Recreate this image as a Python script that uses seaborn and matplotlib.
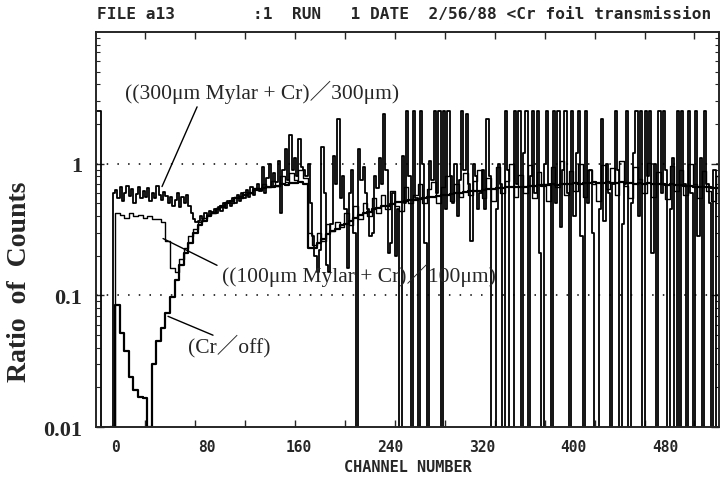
import numpy as np
import pandas as pd
import matplotlib
matplotlib.use('Agg')
import matplotlib.pyplot as plt
import seaborn as sns
from matplotlib.ticker import FixedLocator, LogLocator, NullFormatter

# ratio of counts, one value per channel bin
# (300um Mylar + Cr)/300um : 2-channel bins from channel -16
start_300, width_300 = -16, 2
ratio_300 = [
    2.5, 2.5, 0.01, 0.01, 0.01, 0.01, 0.01, 0.6, 0.63, 0.55,    # -16
    0.66, 0.52, 0.6, 0.68, 0.57, 0.64, 0.5, 0.59, 0.66, 0.55,   # 4
    0.62, 0.56, 0.65, 0.52, 0.6, 0.55, 0.68, 0.58, 0.53, 0.61,  # 24
    0.57, 0.5, 0.56, 0.48, 0.53, 0.6, 0.47, 0.56, 0.5, 0.58,    # 44
    0.48, 0.42, 0.38, 0.36, 0.37, 0.4, 0.38, 0.42, 0.4, 0.44,   # 64
    0.43, 0.45, 0.42, 0.47, 0.44, 0.5, 0.46, 0.52, 0.48, 0.55,  # 84
    0.5, 0.58, 0.52, 0.6, 0.55, 0.63, 0.56, 0.66, 0.58, 0.64,   # 104
    0.7, 0.62, 0.95, 0.6, 0.78, 1.0, 0.66, 0.85, 0.72, 1.05,    # 124
    0.42, 0.9, 1.3, 0.75, 1.65, 0.9, 1.1, 0.8, 1.55, 0.95,      # 144
    0.9, 0.8, 1.0, 0.5, 0.28, 0.2, 0.15, 0.22, 1.35, 0.6,       # 164
    0.17, 0.15, 0.35, 1.15, 0.7, 2.2, 0.55, 0.8, 0.45, 0.16,    # 184
    0.6, 0.9, 0.3, 0.01, 1.3, 0.75, 0.95, 0.6, 0.45, 0.28,      # 204
    0.3, 0.8, 0.65, 1.1, 0.7, 2.4, 0.9, 0.21, 0.25, 0.6,        # 224
    0.2, 0.45, 0.01, 1.15, 0.5, 2.5, 0.8, 0.01, 2.5, 0.55,      # 244
    0.01, 2.5, 1.0, 0.25, 0.01, 1.05, 0.75, 2.5, 0.6, 2.5,      # 264
    0.01, 2.5, 0.45, 2.5, 0.8, 0.5, 1.0, 0.4, 0.75, 2.5,        # 284
    0.9, 2.4, 0.7, 0.26, 1.0, 0.8, 0.45, 0.6, 0.9, 0.45,        # 304
    2.2, 0.8, 0.01, 0.01, 0.45, 1.0, 0.7, 0.01, 2.5, 0.9,       # 324
    0.01, 0.01, 2.5, 0.7, 2.5, 0.01, 1.2, 2.5, 0.01, 0.8,       # 344
    2.5, 0.6, 2.5, 0.21, 0.01, 1.0, 2.5, 0.7, 0.01, 2.5,        # 364
    0.5, 2.5, 0.33, 0.9, 2.5, 0.6, 0.01, 2.5, 0.4, 1.2,         # 384
    2.5, 0.28, 0.01, 2.5, 0.5, 0.9, 0.3, 0.01, 0.01, 0.45,      # 404
    2.2, 0.37, 1.0, 0.6, 0.01, 0.7, 2.5, 0.9, 0.01, 0.35,       # 424
    0.7, 2.5, 0.01, 0.5, 1.2, 2.5, 0.4, 2.5, 0.01, 2.5,         # 444
    0.8, 2.5, 0.21, 1.0, 0.01, 2.5, 0.6, 2.5, 0.9, 0.01,        # 464
    0.45, 1.1, 0.01, 2.5, 0.01, 2.5, 0.7, 0.01, 2.5, 0.6,       # 484
    0.01, 2.5, 0.28, 1.1, 0.01, 2.5, 0.7, 0.5, 0.01, 0.9,       # 504
    0.01,                                                       # 524
]

# (100um Mylar + Cr)/100um : 4-channel bins from channel -4
start_100, width_100 = -4, 4
ratio_100 = [
    0.01, 0.42, 0.41, 0.39, 0.42, 0.4, 0.41, 0.39, 0.4, 0.38,   # -4
    0.38, 0.36, 0.26, 0.16, 0.15, 0.19, 0.23, 0.28, 0.32, 0.36, # 36
    0.39, 0.41, 0.42, 0.46, 0.47, 0.51, 0.5, 0.56, 0.55, 0.61,  # 76
    0.6, 0.65, 0.63, 0.7, 0.66, 0.74, 0.68, 0.8, 0.72, 0.85,    # 116
    0.75, 0.9, 0.78, 0.3, 0.24, 0.3, 0.26, 0.35, 0.31, 0.36,    # 156
    0.33, 0.42, 0.34, 0.48, 0.38, 0.5, 0.4, 0.55, 0.42, 0.58,   # 196
    0.45, 0.62, 0.48, 0.44, 0.66, 0.5, 0.58, 0.7, 0.5, 0.64,    # 236
    0.72, 0.5, 0.66, 0.8, 0.52, 0.7, 0.56, 0.85, 0.58, 0.74,    # 276
    0.9, 0.55, 0.78, 0.52, 0.95, 0.6, 0.74, 1.0, 0.56, 0.82,    # 316
    0.6, 0.98, 0.55, 0.86, 0.7, 0.52, 0.95, 0.66, 1.05, 0.58,   # 356
    0.88, 0.62, 1.0, 0.56, 0.9, 0.7, 0.52, 0.98, 0.64, 0.92,    # 396
    0.58, 1.05, 0.68, 0.55, 0.95, 0.76, 0.6, 1.02, 0.56, 0.86,  # 436
    0.7, 0.54, 0.96, 0.62, 0.9, 0.58, 1.0, 0.7, 0.55, 0.88,     # 476
    0.62, 0.52, 0.8,                                            # 516
]

# Cr/off : 4-channel bins from channel -4
start_off, width_off = -4, 4
ratio_off = [
    0.01, 0.085, 0.052, 0.038, 0.024, 0.019, 0.017, 0.0165, 0.01, 0.03,  # -4
    0.045, 0.056, 0.073, 0.097, 0.13, 0.17, 0.21, 0.25, 0.3, 0.34,       # 36
    0.37, 0.4, 0.42, 0.45, 0.48, 0.5, 0.52, 0.55, 0.56, 0.58,            # 76
    0.6, 0.63, 0.64, 0.65, 0.67, 0.67, 0.68, 0.7, 0.69, 0.71,            # 116
    0.71, 0.72, 0.7, 0.23, 0.23, 0.25, 0.27, 0.29, 0.31, 0.32,           # 156
    0.34, 0.35, 0.37, 0.39, 0.41, 0.42, 0.43, 0.45, 0.46, 0.48,          # 196
    0.48, 0.49, 0.51, 0.51, 0.52, 0.53, 0.53, 0.54, 0.55, 0.56,          # 236
    0.56, 0.57, 0.58, 0.58, 0.59, 0.6, 0.6, 0.61, 0.62, 0.62,            # 276
    0.62, 0.63, 0.64, 0.64, 0.65, 0.65, 0.66, 0.66, 0.67, 0.67,          # 316
    0.67, 0.68, 0.68, 0.69, 0.68, 0.69, 0.7, 0.69, 0.7, 0.7,             # 356
    0.7, 0.71, 0.7, 0.71, 0.71, 0.72, 0.71, 0.71, 0.72, 0.71,            # 396
    0.71, 0.72, 0.71, 0.71, 0.7, 0.71, 0.7, 0.71, 0.7, 0.7,              # 436
    0.7, 0.69, 0.7, 0.69, 0.69, 0.68, 0.68, 0.67, 0.67, 0.66,            # 476
    0.66, 0.65, 0.65,                                                    # 516
]

x_ticks = [0, 80, 160, 240, 320, 400, 480]
y_ticks = [0.01, 0.1, 1]
y_ticklabels = ['0.01', '0.1', '1']
title = 'FILE a13        :1  RUN   1 DATE  2/56/88 <Cr foil transmission'


def to_steps(start, width, vals, name):
    # histogram style: each value holds over its bin
    ch = start + width * np.arange(len(vals) + 1)
    return pd.DataFrame({'channel': ch, 'ratio': list(vals) + [vals[-1]], 'series': name})


df_300 = to_steps(start_300, width_300, ratio_300, '300um')
df_100 = to_steps(start_100, width_100, ratio_100, '100um')
df_off = to_steps(start_off, width_off, ratio_off, 'Cr/off')

sns.set_style('white')
plt.rcParams['axes.linewidth'] = 1.4

fig = plt.figure(figsize=(7.25, 4.81), dpi=100)
ax = fig.add_axes([96/725, 1-428/481, (719-96)/725, (428-33)/481])

for d, lw in [(df_300, 1.3), (df_100, 1.0), (df_off, 1.6)]:
    sns.lineplot(data=d, x='channel', y='ratio', estimator=None, sort=False,
                 drawstyle='steps-post', color='black', lw=lw, ax=ax)

ax.set_yscale('log')
ax.set_xlim(-16.6, 527)
ax.set_ylim(0.01, 10)

# dotted reference lines at 1 and 0.1
for v in [1, 0.1]:
    ax.axhline(v, color='black', lw=1.1, ls=(0, (1, 6)))

# ticks
ax.set_xticks(x_ticks)
ax.set_xticklabels([str(t) for t in x_ticks], family='DejaVu Sans Mono',
                   weight='bold', size=10.5)
ax.xaxis.set_minor_locator(FixedLocator(np.arange(26, 520, 43.6)))
ax.tick_params(axis='x', which='major', length=0, pad=9)
ax.tick_params(axis='x', which='minor', direction='in', length=5, width=1,
               top=True, bottom=True)
ax.set_yticks(y_ticks)
ax.set_yticklabels(y_ticklabels, family='Liberation Serif', weight='bold', size=16)
ax.yaxis.set_minor_locator(LogLocator(base=10, subs=np.arange(2, 10)))
ax.yaxis.set_minor_formatter(NullFormatter())
ax.tick_params(axis='y', which='major', direction='in', length=6, width=1,
               left=True, right=True, pad=10)
ax.tick_params(axis='y', which='minor', direction='in', length=3, width=0.8,
               left=True, right=True)

ax.set_xlabel('CHANNEL NUMBER', family='DejaVu Sans Mono', weight='bold',
              size=11, labelpad=3)
ax.set_ylabel('Ratio  of  Counts', family='Liberation Serif', weight='bold', size=20)
ax.yaxis.set_label_coords(-0.102, 0.37)

fig.text(97/725, 1-15/481, title, family='DejaVu Sans Mono', weight='bold',
         size=11.6, ha='left', va='center')

# curve labels with leader lines
serif = ['Liberation Serif', 'Noto Sans CJK JP']
ax.text(8.7, 3.57, '((300\u03bcm Mylar + Cr)\uff0f300\u03bcm)', family=serif,
        size=15.5, ha='left', va='center')
ax.plot([71.6, 41], [2.7, 0.67], color='black', lw=1)
ax.text(93.4, 0.144, '((100\u03bcm Mylar + Cr)\uff0f100\u03bcm)', family=serif,
        size=15.5, ha='left', va='center')
ax.plot([41.9, 89], [0.27, 0.169], color='black', lw=1)
ax.text(63.7, 0.0418, '(Cr\uff0foff)', family=serif, size=15.5, ha='left', va='center')
ax.plot([46.2, 85.5], [0.0693, 0.0498], color='black', lw=1)

fig.savefig('out.png', dpi=100)
